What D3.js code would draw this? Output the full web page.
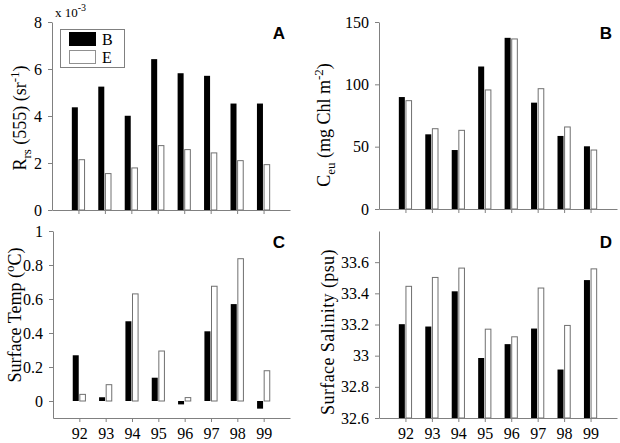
<!DOCTYPE html>
<html><head><meta charset="utf-8">
<script src="https://cdn.jsdelivr.net/npm/d3@7"></script>
<style>body{margin:0;background:#fff}svg{display:block}</style>
</head><body><svg id="c" width="620" height="443"></svg>
<script>
const years = [92, 93, 94, 95, 96, 97, 98, 99];
const seriesNames = ["B", "E"];
// Panel A: Rrs(555) x 1e-3
const rrsB = [4.37, 5.25, 4.01, 6.42, 5.82, 5.71, 4.53, 4.53];
const rrsE = [2.14, 1.55, 1.79, 2.74, 2.57, 2.43, 2.10, 1.93];
// Panel B: Ceu
const ceuB = [89.8, 59.9, 47.3, 114.3, 137.3, 85.3, 58.6, 50.3];
const ceuE = [86.9, 64.4, 63.1, 95.5, 136.4, 96.5, 65.8, 47.3];
// Panel C: Surface temp
const tempB = [0.269, 0.022, 0.469, 0.137, -0.02, 0.41, 0.57, -0.045];
const tempE = [0.039, 0.096, 0.63, 0.294, 0.02, 0.675, 0.837, 0.178];
// Panel D: Surface salinity
const salB = [33.202, 33.187, 33.413, 32.985, 33.074, 33.174, 32.911, 33.485];
const salE = [33.445, 33.502, 33.562, 33.170, 33.121, 33.434, 33.194, 33.557];

const ticksA = [0, 2, 4, 6, 8];
const ticksB = [0, 50, 100, 150];
const ticksC = [0, 0.2, 0.4, 0.6, 0.8, 1];
const ticksD = [32.6, 32.8, 33, 33.2, 33.4, 33.6];

const svg = d3.select("#c");
const AX = "#808080";
const SERIF = "'Liberation Serif','Times New Roman',serif";
const SANS = "'Liberation Sans',Arial,sans-serif";

const panels = [
  {id:"A", x0:52, x1:290, y0:22, y1:210, dom:[0,8], base:0, ticks:ticksA, b:rrsB, e:rrsE, xlabels:false},
  {id:"B", x0:379, x1:617, y0:22, y1:209, dom:[0,150], base:0, ticks:ticksB, b:ceuB, e:ceuE, xlabels:false},
  {id:"C", x0:53, x1:290, y0:231, y1:418, dom:[-0.1,1], base:0, ticks:ticksC, b:tempB, e:tempE, xlabels:true},
  {id:"D", x0:379, x1:617, y0:231, y1:418, dom:[32.6,33.8], base:32.6, ticks:ticksD, b:salB, e:salE, xlabels:true}
];

panels.forEach(p => {
  const g = svg.append("g");
  const x = d3.scaleLinear().domain([91, 100]).range([p.x0, p.x1]);
  const y = d3.scaleLinear().domain(p.dom).range([p.y1, p.y0]);
  const bw = x(91.25) - x(91);

  g.selectAll(".bb").data(years).join("rect")
    .attr("x", (d) => x(d) - bw)
    .attr("width", bw - 0.6)
    .attr("y", (d,i) => Math.min(y(p.b[i]), y(p.base)))
    .attr("height", (d,i) => Math.abs(y(p.b[i]) - y(p.base)))
    .attr("fill", "#000");
  g.selectAll(".be").data(years).join("rect")
    .attr("x", (d) => x(d) + 0.5)
    .attr("width", bw - 1)
    .attr("y", (d,i) => Math.min(y(p.e[i]), y(p.base)))
    .attr("height", (d,i) => Math.abs(y(p.e[i]) - y(p.base)))
    .attr("fill", "#fff").attr("stroke", "#707070").attr("stroke-width", 1);

  const ya = g.append("g").attr("transform", `translate(${p.x0},0)`)
    .call(d3.axisLeft(y).tickValues(p.ticks).tickSize(4).tickPadding(6).tickSizeOuter(0).tickFormat(d => String(+d.toFixed(2))));
  const xa = g.append("g").attr("transform", `translate(0,${p.y1})`)
    .call(d3.axisBottom(x).tickValues(years).tickSize(4).tickPadding(6).tickSizeOuter(0)
      .tickFormat(p.xlabels ? (d => d) : () => ""));
  [ya, xa].forEach(a => {
    a.attr("font-family", SERIF).attr("font-size", 16);
    a.select(".domain").attr("stroke", AX);
    a.selectAll(".tick line").attr("stroke", AX);
    a.selectAll("text").attr("fill", "#000");
  });

  g.append("text").attr("x", p.x1 - 5).attr("y", p.y0 + 17)
    .attr("text-anchor", "end").attr("font-family", SANS).attr("font-weight", "bold")
    .attr("font-size", 17).text(p.id);
});

function ylab(cx, cy, build) {
  const t = svg.append("text").attr("transform", `translate(${cx},${cy}) rotate(-90)`)
    .attr("text-anchor", "middle").attr("font-family", SERIF).attr("font-size", 18);
  build(t);
}
ylab(26, 118, t => {
  t.append("tspan").text("R");
  t.append("tspan").attr("font-size", 13).attr("dy", 5).text("rs");
  t.append("tspan").attr("dy", -5).text(" (555) (sr");
  t.append("tspan").attr("font-size", 13).attr("dy", -7).text("-1");
  t.append("tspan").attr("dy", 7).text(")");
});
ylab(330, 125, t => {
  t.append("tspan").text("C");
  t.append("tspan").attr("font-size", 13).attr("dy", 5).text("eu");
  t.append("tspan").attr("dy", -5).text(" (mg Chl m");
  t.append("tspan").attr("font-size", 13).attr("dy", -7).text("-2");
  t.append("tspan").attr("dy", 7).text(")");
});
ylab(21, 315, t => {
  t.append("tspan").text("Surface Temp (");
  t.append("tspan").attr("font-size", 13).attr("dy", -7).text("o");
  t.append("tspan").attr("dy", 7).text("C)");
});
ylab(334, 332, t => {
  t.append("tspan").attr("letter-spacing", 0.4).text("Surface Salinity (psu)");
});

const m = svg.append("text").attr("x", 55).attr("y", 17).attr("font-family", SERIF).attr("font-size", 13);
m.append("tspan").text("x 10");
m.append("tspan").attr("font-size", 10).attr("dy", -6).text("-3");

const lg = svg.append("g");
lg.append("rect").attr("x", 60.5).attr("y", 29.5).attr("width", 64).attr("height", 38)
  .attr("fill", "#fff").attr("stroke", AX);
const ly = d3.scalePoint().domain(seriesNames).range([39, 57]);
lg.selectAll(".sw").data(seriesNames).join("rect")
  .attr("x", 69.5).attr("y", d => ly(d) - 6.5).attr("width", 26).attr("height", 13)
  .attr("fill", (d,i) => i === 0 ? "#000" : "#fff")
  .attr("stroke", (d,i) => i === 0 ? "#000" : "#909090");
lg.selectAll(".lt").data(seriesNames).join("text")
  .attr("x", 102).attr("y", d => ly(d) + 5.5)
  .attr("font-family", SERIF).attr("font-size", 16).text(d => d);
</script></body></html>
